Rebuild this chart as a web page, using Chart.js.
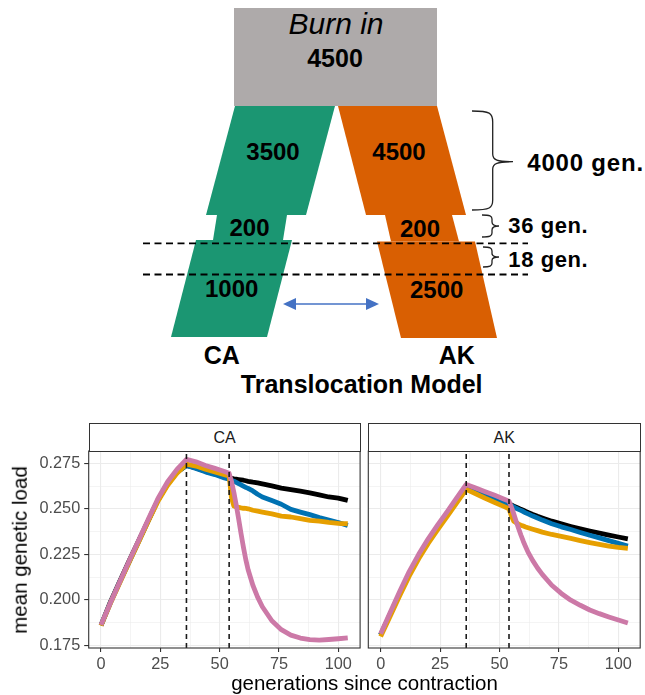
<!DOCTYPE html>
<html><head><meta charset="utf-8">
<script src="https://cdn.jsdelivr.net/npm/chart.js@4"></script>
<style>
html,body{margin:0;padding:0;background:#fff;}
body{width:645px;height:695px;position:relative;overflow:hidden;font-family:"Liberation Sans",Arial,sans-serif;}
#diagram{position:absolute;left:0;top:0;}
.cv{position:absolute;}
.strip{position:absolute;box-sizing:border-box;border:1px solid #333;background:#fff;text-align:center;font-size:16px;color:#1a1a1a;line-height:27px;z-index:2;}
.ytitle{position:absolute;left:20px;top:549.5px;transform:translate(-50%,-50%) rotate(-90deg);font-size:20.5px;white-space:nowrap;color:#000;line-height:1;}
.xtitle{position:absolute;left:364.5px;top:683px;transform:translate(-50%,-50%);font-size:20.5px;white-space:nowrap;color:#000;line-height:1;}
</style>
</head><body>
<svg id="diagram" width="645" height="400" viewBox="0 0 645 400" font-family="Liberation Sans, Arial, sans-serif">
  <rect x="234" y="8" width="203" height="98" fill="#AEAAAA"/>
  <polygon points="235,106 335,106 306,215 206,215" fill="#1B9672"/>
  <polygon points="217,215 287,215 283,240 213,240" fill="#1B9672"/>
  <polygon points="196,240 292,240 267,337 171,337" fill="#1B9672"/>
  <polygon points="338,106 437,106 466,215 366,215" fill="#D95F02"/>
  <polygon points="385,215 452,215 459,241.5 391,241.5" fill="#D95F02"/>
  <polygon points="377,241.5 475,241.5 497,338 401,338" fill="#D95F02"/>
  <line x1="143" y1="243.3" x2="528" y2="243.3" stroke="#000" stroke-width="1.8" stroke-dasharray="7 4.5"/>
  <line x1="143" y1="274.5" x2="528" y2="274.5" stroke="#000" stroke-width="1.8" stroke-dasharray="7 4.5"/>
  <path d="M472,111 C490,111 492.7,113 492.7,122 L492.7,154 C492.7,160 497,161.7 513,161.7 C497,161.7 492.7,163.5 492.7,169 L492.7,200 C492.7,208 490,210 472,210" fill="none" stroke="#222" stroke-width="1.3"/>
  <path d="M482,215 C490,215 492,216 492,219 L492,222 C492,225 494,226 499,226 C494,226 492,227 492,230 L492,233 C492,236 490,237 482,237" fill="none" stroke="#222" stroke-width="1.3"/>
  <path d="M483,247 C490,247 492,248 492,251 L492,253.5 C492,256 494,257 499,257 C494,257 492,258 492,260.5 L492,263 C492,266 490,267 483,267" fill="none" stroke="#222" stroke-width="1.3"/>
  <line x1="292" y1="304" x2="370" y2="304" stroke="#4472C4" stroke-width="1.5"/>
  <polygon points="283,304 296,298 296,310" fill="#4472C4"/>
  <polygon points="379,304 366,298 366,310" fill="#4472C4"/>
  <g fill="#000" text-anchor="middle">
    <text x="336" y="33.5" font-size="30" font-style="italic">Burn in</text>
    <text x="335" y="66.7" font-size="25" font-weight="bold">4500</text>
    <text x="273" y="160" font-size="24" font-weight="bold">3500</text>
    <text x="399" y="160" font-size="24" font-weight="bold">4500</text>
    <text x="249.5" y="235.7" font-size="24" font-weight="bold">200</text>
    <text x="420" y="236.7" font-size="24" font-weight="bold">200</text>
    <text x="231.7" y="296.7" font-size="24" font-weight="bold">1000</text>
    <text x="436.7" y="298.3" font-size="24" font-weight="bold">2500</text>
    <text x="221.7" y="364" font-size="25" font-weight="bold">CA</text>
    <text x="456.7" y="364" font-size="25" font-weight="bold">AK</text>
    <text x="361.7" y="393.3" font-size="25" font-weight="bold">Translocation Model</text>
  </g>
  <g fill="#000" font-weight="bold">
    <text x="527.3" y="170.7" font-size="24" letter-spacing="0.8">4000 gen.</text>
    <text x="508.3" y="232.7" font-size="22" letter-spacing="0.6">36 gen.</text>
    <text x="508.3" y="266.7" font-size="22" letter-spacing="0.6">18 gen.</text>
  </g>
</svg>

<canvas id="ca" class="cv" width="365" height="254" style="left:0px;top:441px;width:365px;height:254px"></canvas>
<canvas id="ak" class="cv" width="285" height="254" style="left:360px;top:441px;width:285px;height:254px"></canvas>
<div class="strip" style="left:88.5px;top:423px;width:272px;height:29px">CA</div>
<div class="strip" style="left:368px;top:423px;width:272.5px;height:29px">AK</div>
<div class="ytitle">mean genetic load</div>
<div class="xtitle">generations since contraction</div>

<script>
// ---- data ----
const generations = [0,4,8,12,16,20,24,28,32,36,40,44,48,52,54,55,56,57,58,59,60,61,62,64,66,68,72,76,80,84,88,92,96,100,104];
const caBlack  = [.1860,.1990,.2105,.2218,.2328,.2438,.2548,.2635,.2702,.2738,.2724,.2706,.2692,.2677,.2670,.2668,.2665,.2663,.2661,.2659,.2657,.2654,.2651,.2646,.2642,.2637,.2626,.2614,.2605,.2597,.2588,.2577,.2565,.2559,.2546];
const caBlue   = [.1860,.1985,.2100,.2212,.2325,.2437,.2548,.2635,.2700,.2738,.2722,.2703,.2688,.2670,.2662,.2657,.2652,.2645,.2638,.2632,.2625,.2618,.2612,.2598,.2580,.2565,.2545,.2525,.2497,.2482,.2468,.2452,.2438,.2425,.2408];
const caOrange = [.1858,.1982,.2097,.2210,.2322,.2434,.2542,.2628,.2695,.2745,.2735,.2718,.2703,.2688,.2680,.2560,.2515,.2510,.2508,.2505,.2503,.2502,.2500,.2492,.2487,.2482,.2472,.2460,.2455,.2446,.2437,.2432,.2425,.2420,.2418];
const caPink   = [.1862,.1985,.2102,.2218,.2332,.2445,.2557,.2647,.2717,.2772,.2758,.2738,.2722,.2705,.2695,.2650,.2590,.2520,.2445,.2365,.2290,.2222,.2165,.2080,.2015,.1962,.1885,.1836,.1806,.1790,.1781,.1779,.1782,.1786,.1791];
const akBlack  = [.1808,.1921,.2034,.2143,.2238,.2323,.2400,.2474,.2548,.2622,.2602,.2580,.2559,.2538,.2528,.2521,.2515,.2509,.2503,.2497,.2492,.2486,.2480,.2469,.2459,.2450,.2432,.2417,.2403,.2390,.2378,.2366,.2355,.2345,.2335];
const akBlue   = [.1806,.1920,.2033,.2142,.2237,.2322,.2398,.2472,.2546,.2621,.2600,.2578,.2557,.2535,.2525,.2517,.2510,.2503,.2497,.2491,.2485,.2478,.2472,.2460,.2449,.2438,.2418,.2401,.2386,.2370,.2355,.2340,.2325,.2310,.2295];
const akOrange = [.1798,.1910,.2022,.2130,.2225,.2310,.2385,.2458,.2532,.2607,.2583,.2558,.2535,.2512,.2500,.2460,.2432,.2424,.2416,.2410,.2405,.2400,.2396,.2388,.2380,.2372,.2359,.2348,.2337,.2325,.2314,.2304,.2295,.2288,.2283];
const akPink   = [.1814,.1930,.2045,.2155,.2250,.2335,.2412,.2485,.2560,.2634,.2614,.2594,.2574,.2553,.2542,.2510,.2472,.2432,.2393,.2356,.2322,.2291,.2262,.2215,.2175,.2140,.2080,.2035,.1998,.1970,.1944,.1924,.1906,.1889,.1873];
const vlines = [36, 54];
const yMajor = [0.175, 0.2, 0.225, 0.25, 0.275];
const yMinor = [0.1875, 0.2125, 0.2375, 0.2625];
const xMajor = [0, 25, 50, 75, 100];
const xMinor = [12.5, 37.5, 62.5, 87.5];

// ---- styling ----
const Y_MIN = 0.17352, Y_MAX = 0.28176, X_MIN = -5.2, X_MAX = 109.2;
const COLORS = {black:'#000000', blue:'#0072B2', orange:'#E69F00', pink:'#CC79A7'};
const isMaj = (arr, v) => arr.some(m => Math.abs(m - v) < 1e-9);
const pts = arr => generations.map((g, i) => ({x: g, y: arr[i]}));

const borderPlugin = {
  id: 'panelBorder',
  afterDraw(chart) {
    const a = chart.chartArea, c = chart.ctx;
    c.save(); c.strokeStyle = '#333333'; c.lineWidth = 1.1;
    c.strokeRect(a.left, a.top, a.right - a.left, a.bottom - a.top);
    c.restore();
  }
};

function makePanel(id, s, cfg) {
  const datasets = [];
  vlines.forEach(v => datasets.push({
    data: [{x: v, y: Y_MIN}, {x: v, y: Y_MAX}],
    borderColor: '#1a1a1a', borderWidth: 1.6, borderDash: [5, 4], order: 0
  }));
  [['pink', s.pink, 1], ['orange', s.orange, 2], ['blue', s.blue, 3], ['black', s.black, 4]].forEach(([k, arr, o]) => {
    datasets.push({data: pts(arr), borderColor: COLORS[k], borderWidth: 4.8, order: o,
      borderCapStyle: 'butt', borderJoinStyle: 'round'});
  });
  return new Chart(document.getElementById(id), {
    type: 'line',
    data: {datasets},
    plugins: [borderPlugin],
    options: {
      responsive: false, animation: false, devicePixelRatio: 1,
      layout: {padding: {top: 10, right: cfg.padRight, left: 0, bottom: 0}},
      plugins: {legend: {display: false}, tooltip: {enabled: false}},
      elements: {point: {radius: 0}, line: {tension: 0}},
      scales: {
        x: {
          type: 'linear', min: X_MIN, max: X_MAX,
          afterBuildTicks: sc => { sc.ticks = xMajor.concat(xMinor).sort((a, b) => a - b).map(v => ({value: v})); },
          afterFit: sc => { sc.height = 47; sc.paddingLeft = 0; sc.paddingRight = 0; },
          ticks: {autoSkip: false, maxRotation: 0, padding: 2.5, color: '#4D4D4D',
            font: {family: 'Liberation Sans', size: 16.3},
            callback: v => isMaj(xMajor, v) ? String(v) : ''},
          grid: {color: '#EBEBEB', lineWidth: ctx => isMaj(xMajor, ctx.tick.value) ? 1.1 : 0.55,
            tickColor: ctx => isMaj(xMajor, ctx.tick.value) ? '#333333' : 'rgba(0,0,0,0)',
            tickLength: 4, tickWidth: 1.1, drawTicks: true},
          border: {display: false}
        },
        y: {
          type: 'linear', min: Y_MIN, max: Y_MAX,
          afterBuildTicks: sc => { sc.ticks = yMajor.concat(yMinor).sort((a, b) => a - b).map(v => ({value: v})); },
          afterFit: sc => { sc.width = cfg.yWidth; sc.paddingTop = 0; sc.paddingBottom = 0; },
          ticks: {display: cfg.showY, autoSkip: false, padding: 4, color: '#4D4D4D',
            font: {family: 'Liberation Sans', size: 16.3},
            callback: v => isMaj(yMajor, v) ? v.toFixed(3) : ''},
          grid: {color: '#EBEBEB', lineWidth: ctx => isMaj(yMajor, ctx.tick.value) ? 1.1 : 0.55,
            tickColor: ctx => isMaj(yMajor, ctx.tick.value) ? '#333333' : 'rgba(0,0,0,0)',
            tickLength: 4.5, tickWidth: 1.1, drawTicks: cfg.showY},
          border: {display: false}
        }
      }
    }
  });
}

makePanel('ca', {black: caBlack, blue: caBlue, orange: caOrange, pink: caPink}, {padRight: 4.9, yWidth: 88.7, showY: true});
makePanel('ak', {black: akBlack, blue: akBlue, orange: akOrange, pink: akPink}, {padRight: 4.8, yWidth: 8.3, showY: false});
</script>
</body></html>
